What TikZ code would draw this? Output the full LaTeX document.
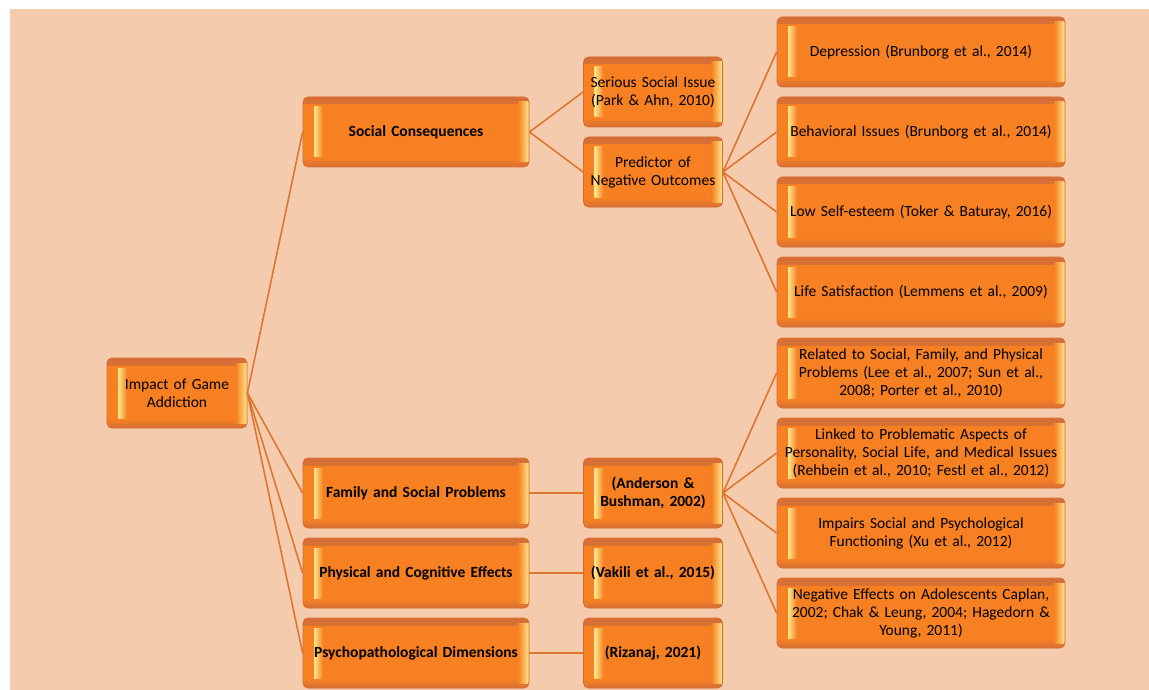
\documentclass[tikz,border=0pt]{standalone}
\usepackage{fontspec}
\setmainfont{Carlito}
\usetikzlibrary{positioning}

\definecolor{peach}{RGB}{245,203,174}
\definecolor{boxorange}{RGB}{246,128,34}
\definecolor{boxrim}{RGB}{214,110,54}
\definecolor{boxlight}{RGB}{255,232,140}
\definecolor{linkbrown}{RGB}{220,118,48}

\tikzset{
  gamebox/.style={draw=boxrim, line width=0.8pt, rounded corners=5pt,
    fill=boxorange, minimum height=70pt, align=center, inner sep=2pt,
    font=\fontsize{15.5}{18}\selectfont,
    path picture={
      \shade[sharp corners, top color=boxrim, bottom color=boxorange]
        (path picture bounding box.north west) rectangle
        ([yshift=-7pt]path picture bounding box.north east);
      \shade[sharp corners, top color=boxorange, bottom color=boxrim]
        ([yshift=9pt]path picture bounding box.south west) rectangle
        (path picture bounding box.south east);
      \shade[sharp corners, left color=boxorange, right color=boxlight]
        ([xshift=-11pt,yshift=-5pt]path picture bounding box.north east)
        rectangle ([yshift=5pt]path picture bounding box.south east);
      \shade[sharp corners, left color=boxlight, right color=boxorange]
        ([xshift=11pt,yshift=-10pt]path picture bounding box.north west)
        rectangle ([xshift=20pt,yshift=10pt]path picture bounding box.south west);
    }},
  rootbox/.style={gamebox, minimum width=140pt, text width=130pt},
  topicbox/.style={gamebox, minimum width=226pt, text width=220pt,
    font=\fontsize{15.5}{18}\selectfont\bfseries},
  citebox/.style={gamebox, minimum width=139pt, text width=135pt},
  boldcite/.style={citebox, font=\fontsize{15.5}{18}\selectfont\bfseries},
  detailbox/.style={gamebox, minimum width=286pt, text width=284pt},
  link/.style={draw=linkbrown, line width=1.6pt}
}

\begin{document}
\begin{tikzpicture}[x=1pt,y=-1pt]
\fill[white] (0,0) rectangle (1149,690);
\fill[peach] (10,9) rectangle (1149,690);

% root
\node[rootbox] (root) at (177,393) {Impact of Game\\Addiction};

% first level
\node[topicbox] (social) at (416,132) {Social Consequences};
\node[topicbox] (family) at (416,493) {Family and Social Problems};
\node[topicbox] (physical) at (416,573) {Physical and Cognitive Effects};
\node[topicbox] (psycho) at (416,653) {Psychopathological Dimensions};

% second level
\node[citebox] (serious) at (653,92) {Serious Social Issue\\(Park \& Ahn, 2010)};
\node[citebox] (predictor) at (653,172) {Predictor of\\Negative Outcomes};
\node[boldcite] (anderson) at (653,493) {(Anderson \&\\Bushman, 2002)};
\node[boldcite] (vakili) at (653,573) {(Vakili et al., 2015)};
\node[boldcite] (rizanaj) at (653,653) {(Rizanaj, 2021)};

% third level
\node[detailbox] (depression) at (921,52) {Depression (Brunborg et al., 2014)};
\node[detailbox] (behavior) at (921,132) {Behavioral Issues (Brunborg et al., 2014)};
\node[detailbox] (esteem) at (921,212) {Low Self-esteem (Toker \& Baturay, 2016)};
\node[detailbox] (satisfy) at (921,292) {Life Satisfaction (Lemmens et al., 2009)};
\node[detailbox] (related) at (921,373) {Related to Social, Family, and Physical\\Problems (Lee et al., 2007; Sun et al.,\\2008; Porter et al., 2010)};
\node[detailbox] (linked) at (921,453) {Linked to Problematic Aspects of\\Personality, Social Life, and Medical Issues\\(Rehbein et al., 2010; Festl et al., 2012)};
\node[detailbox] (impairs) at (921,533) {Impairs Social and Psychological\\Functioning (Xu et al., 2012)};
\node[detailbox] (adolescent) at (921,613) {Negative Effects on Adolescents Caplan,\\2002; Chak \& Leung, 2004; Hagedorn \&\\Young, 2011)};

% connectors
\foreach \t in {social,family,physical,psycho}
  \draw[link] (root.east) -- (\t.west);
\draw[link] (social.east) -- (serious.west);
\draw[link] (social.east) -- (predictor.west);
\foreach \t in {depression,behavior,esteem,satisfy}
  \draw[link] (predictor.east) -- (\t.west);
\draw[link] (family) -- (anderson);
\draw[link] (physical) -- (vakili);
\draw[link] (psycho) -- (rizanaj);
\foreach \t in {related,linked,impairs,adolescent}
  \draw[link] (anderson.east) -- (\t.west);
\end{tikzpicture}
\end{document}
